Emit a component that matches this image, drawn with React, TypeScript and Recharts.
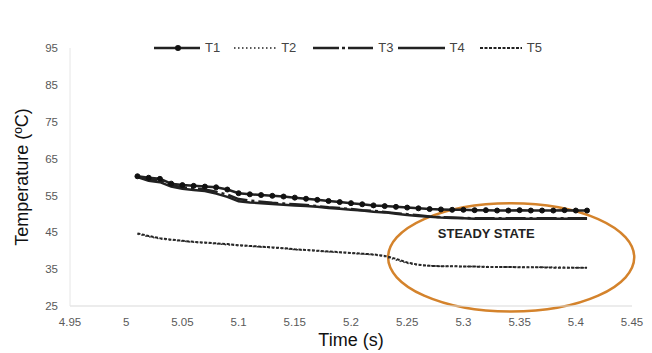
import {
  Legend,
  Line,
  LineChart,
  ReferenceArea,
  XAxis,
  YAxis,
} from "recharts";

const times = [
  5.01, 5.02, 5.03, 5.04, 5.05, 5.06, 5.07, 5.08, 5.09, 5.1, 5.11, 5.12, 5.13,
  5.14, 5.15, 5.16, 5.17, 5.18, 5.19, 5.2, 5.21, 5.22, 5.23, 5.24, 5.25, 5.26,
  5.27, 5.28, 5.29, 5.3, 5.31, 5.32, 5.33, 5.34, 5.35, 5.36, 5.37, 5.38, 5.39,
  5.4, 5.41,
];

const t1 = [
  60.2, 59.8, 59.5, 58.2, 57.8, 57.6, 57.4, 57.2, 56.6, 55.6, 55.3, 55.1, 54.9,
  54.7, 54.4, 54.1, 53.8, 53.5, 53.2, 52.9, 52.6, 52.3, 52.1, 51.9, 51.7, 51.5,
  51.3, 51.2, 51.1, 51.1, 51.0, 51.0, 50.9, 50.9, 51.0, 50.9, 50.9, 50.9, 51.0,
  50.9, 50.9,
];
const t2 = [
  44.5, 43.8, 43.2, 42.9, 42.6, 42.3, 42.1, 41.9, 41.6, 41.4, 41.2, 41.0, 40.8,
  40.6, 40.3, 40.1, 39.9, 39.7, 39.5, 39.3, 39.1, 38.9, 38.4, 37.5, 36.6, 36.1,
  35.9, 35.8, 35.8, 35.7, 35.7, 35.7, 35.6, 35.6, 35.6, 35.5, 35.5, 35.5, 35.5,
  35.4, 35.4,
];
const t3 = [
  60.1, 59.4, 59.0, 57.8, 57.2, 56.9, 56.6, 56.0, 55.2, 54.0, 53.6, 53.3, 53.0,
  52.8, 52.6, 52.4, 52.1, 51.8, 51.6, 51.3, 51.0, 50.8, 50.5, 50.2, 49.9, 49.6,
  49.3, 49.1, 49.0, 48.9, 48.8, 48.8, 48.8, 48.8, 48.8, 48.8, 48.8, 48.8, 48.8,
  48.8, 48.8,
];
const t4 = [
  60.0, 59.0, 58.6, 57.4, 56.8, 56.5, 56.2, 55.5, 54.6, 53.4, 53.1, 52.9, 52.7,
  52.5, 52.3, 52.1, 51.9, 51.6, 51.4, 51.1, 50.9, 50.6, 50.4, 50.0, 49.7, 49.4,
  49.2, 49.0, 48.9, 48.8, 48.7, 48.7, 48.7, 48.7, 48.7, 48.7, 48.7, 48.7, 48.7,
  48.7, 48.7,
];
const t5 = [
  44.7, 44.0, 43.4, 43.0, 42.7, 42.4, 42.2, 42.0, 41.8, 41.5, 41.3, 41.1, 40.9,
  40.7, 40.4, 40.2, 40.0, 39.8, 39.6, 39.4, 39.2, 39.0, 38.6, 37.8, 36.8, 36.2,
  35.9, 35.8, 35.8, 35.7, 35.7, 35.6, 35.6, 35.6, 35.5, 35.5, 35.5, 35.4, 35.4,
  35.4, 35.4,
];

const xTicks = [4.95, 5, 5.05, 5.1, 5.15, 5.2, 5.25, 5.3, 5.35, 5.4, 5.45];
const yTicks = [25, 35, 45, 55, 65, 75, 85, 95];

const data = times.map((t, i) => ({
  time: t,
  T1: t1[i],
  T2: t2[i],
  T3: t3[i],
  T4: t4[i],
  T5: t5[i],
}));

const legendItems = [
  { name: "T1", len: 46, width: 2.5, dash: undefined, dot: true, gap: 14 },
  { name: "T2", len: 42, width: 1.5, dash: "1.5 2.5", dot: false, gap: 17 },
  { name: "T3", len: 60, width: 2.5, dash: "26 3 3 3", dot: false, gap: 4 },
  { name: "T4", len: 47, width: 2.5, dash: undefined, dot: false, gap: 15 },
  { name: "T5", len: 42, width: 2, dash: "3 1.5", dot: false, gap: 0 },
];

const renderLegend = () => (
  <div style={{ display: "flex", alignItems: "center" }}>
    {legendItems.map((it) => (
      <div
        key={it.name}
        style={{ display: "flex", alignItems: "center", marginRight: it.gap }}
      >
        <svg width={it.len} height={10}>
          <line
            x1={0}
            y1={5}
            x2={it.len}
            y2={5}
            stroke="#222"
            strokeWidth={it.width}
            strokeDasharray={it.dash}
          />
          {it.dot && <circle cx={24} cy={5} r={3} fill="#111" />}
        </svg>
        <span style={{ marginLeft: 5, fontSize: 13, color: "#444" }}>
          {it.name}
        </span>
      </div>
    ))}
  </div>
);

const SteadyEllipse = (props: any) => {
  const { x, y, width, height } = props;
  const cx = x + width / 2;
  const cy = y + height / 2;
  return (
    <g>
      <ellipse
        cx={cx}
        cy={cy}
        rx={width / 2}
        ry={height / 2}
        fill="none"
        stroke="#d4832c"
        strokeWidth={2.5}
      />
      <text
        x={cx - 25}
        y={cy - 19}
        textAnchor="middle"
        fontSize={13}
        fontWeight="bold"
        fill="#222"
      >
        STEADY STATE
      </text>
    </g>
  );
};

const App = () => {
  return (
    <div
      style={{
        position: "absolute",
        left: 0,
        top: 0,
        width: 652,
        height: 353,
        background: "#fff",
        fontFamily: "Liberation Sans, Arial, sans-serif",
      }}
    >
      <LineChart
        width={652}
        height={353}
        data={data}
        margin={{ top: 33, right: 20, left: 0, bottom: 0 }}
      >
        <XAxis
          dataKey="time"
          type="number"
          domain={[4.95, 5.45]}
          ticks={xTicks}
          height={47}
          tickSize={0}
          tickMargin={12}
          stroke="#d9d9d9"
          tick={{ fill: "#595959", fontSize: 11.5 }}
          label={{
            value: "Time (s)",
            position: "insideBottom",
            offset: 7,
            fill: "#111",
            fontSize: 18,
          }}
        />
        <YAxis
          type="number"
          domain={[25, 95]}
          ticks={yTicks}
          width={70}
          tickSize={0}
          tickMargin={12}
          stroke="#e6e6e6"
          tick={{ fill: "#595959", fontSize: 11.5 }}
          label={{
            value: "Temperature (ºC)",
            angle: -90,
            position: "insideLeft",
            offset: 22,
            fill: "#111",
            fontSize: 18,
            style: { textAnchor: "middle" },
          }}
        />
        <Legend
          verticalAlign="top"
          content={renderLegend}
          wrapperStyle={{ top: 40, left: 154, width: 420 }}
        />
        <ReferenceArea
          x1={5.233}
          x2={5.452}
          y1={23.5}
          y2={52.9}
          ifOverflow="visible"
          shape={<SteadyEllipse />}
        />
        <Line
          dataKey="T5"
          stroke="#222"
          strokeWidth={2}
          strokeDasharray="3 1.5"
          dot={false}
          isAnimationActive={false}
        />
        <Line
          dataKey="T2"
          stroke="#333"
          strokeWidth={1.5}
          strokeDasharray="1.5 2.5"
          dot={false}
          isAnimationActive={false}
        />
        <Line
          dataKey="T3"
          stroke="#222"
          strokeWidth={2.5}
          strokeDasharray="20 4 3 4"
          dot={false}
          isAnimationActive={false}
        />
        <Line
          dataKey="T4"
          stroke="#222"
          strokeWidth={2.5}
          dot={false}
          isAnimationActive={false}
        />
        <Line
          dataKey="T1"
          stroke="#222"
          strokeWidth={2.5}
          dot={{ r: 2.5, fill: "#111", stroke: "#111", strokeWidth: 1 }}
          isAnimationActive={false}
        />
      </LineChart>
    </div>
  );
};

export default App;
